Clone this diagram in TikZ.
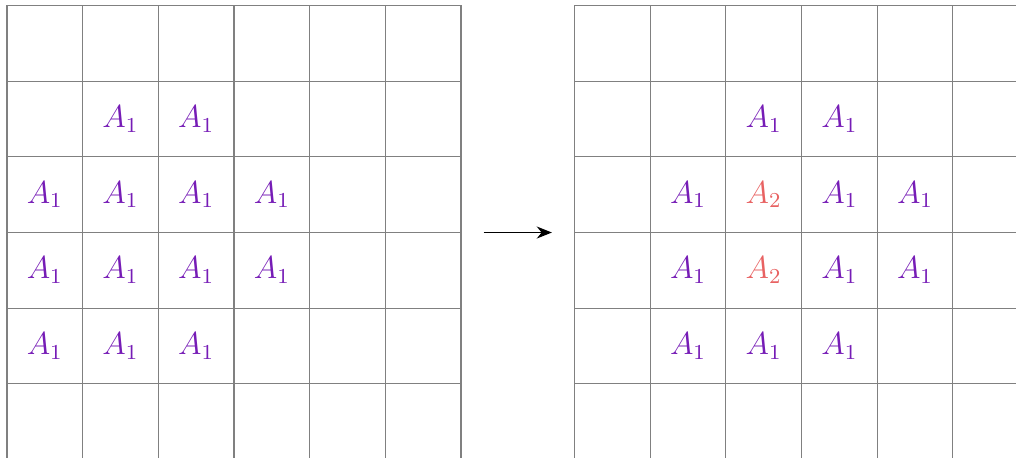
\documentclass[tikz,border=0pt]{standalone}
\usetikzlibrary{arrows.meta}
\definecolor{apurple}{RGB}{118,28,182}
\definecolor{ared}{RGB}{232,98,98}
\tikzset{
  gridline/.style={gray, line width=0.4pt},
  aone/.style={text=apurple, font=\large},
  atwo/.style={text=ared, font=\large},
}
\begin{document}
\begin{tikzpicture}[x=1cm,y=1cm]
\useasboundingbox (-0.0925,0.0727) rectangle (13.334,-5.975);
% left grid
\draw[gridline] (0,0) grid (6,-6.2);
% right grid
\draw[gridline, shift={(7.5,0)}] (0,0) grid (6.5,-6.2);
% left labels
\foreach \c/\r in {1/1,2/1,0/2,1/2,2/2,3/2,0/3,1/3,2/3,3/3,0/4,1/4,2/4}
  \node[aone] (L\c\r) at (\c+0.5,-\r-0.5) {$A_1$};
% right labels
\foreach \c/\r in {2/1,3/1,1/2,3/2,4/2,1/3,3/3,4/3,1/4,2/4,3/4}
  \node[aone] (R\c\r) at (7.5+\c+0.5,-\r-0.5) {$A_1$};
\foreach \c/\r in {2/2,2/3}
  \node[atwo] (R\c\r) at (7.5+\c+0.5,-\r-0.5) {$A_2$};
% arrow
\coordinate (as) at (6.3,-3);
\coordinate (ae) at (7.2,-3);
\draw[-{Stealth[length=2mm,width=1.6mm]}, line width=0.5pt] (as) -- (ae);
\end{tikzpicture}
\end{document}
